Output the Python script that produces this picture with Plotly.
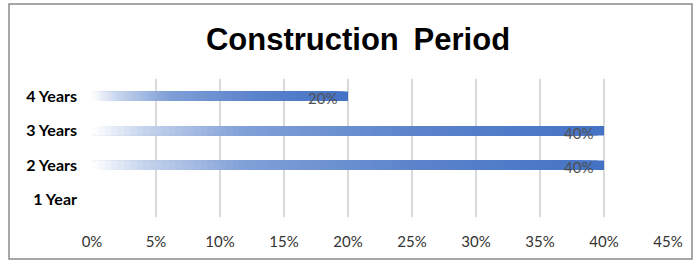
import plotly.graph_objects as go

categories = ["1 Year", "2 Years", "3 Years", "4 Years"]
values = [0.0, 0.40, 0.40, 0.20]
tick_vals = [0, 0.05, 0.10, 0.15, 0.20, 0.25, 0.30, 0.35, 0.40, 0.45]
tick_text = ["0%", "5%", "10%", "15%", "20%", "25%", "30%", "35%", "40%", "45%"]
title_text = "Construction\u2009 Period"

W, H = 696, 262
L, R, T, B = 92, 28, 79, 45

BLUE = (68, 114, 196)
# gradient stops: (fraction along bar, fraction of colour)
stops = [(0.0, 0.0), (0.1, 0.3), (0.3, 0.68), (0.65, 0.88), (1.0, 1.0)]


def grad(f):
    for (f0, t0), (f1, t1) in zip(stops[:-1], stops[1:]):
        if f <= f1:
            t = t0 + (t1 - t0) * (f - f0) / (f1 - f0)
            break
    else:
        t = 1.0
    r, g, b = (round(255 + (c - 255) * t) for c in BLUE)
    return f"rgb({r},{g},{b})"


N = 80
fig = go.Figure()
for k in range(N - 1, -1, -1):
    frac = (k + 1) / N
    fig.add_trace(go.Bar(
        y=categories,
        x=[v * frac for v in values],
        orientation="h",
        width=0.27,
        marker=dict(color=grad((k + 0.5) / N), line=dict(width=0)),
        hoverinfo="skip",
        showlegend=False,
    ))

for c, v in zip(categories, values):
    if v > 0:
        fig.add_annotation(
            x=v, y=c, xref="x", yref="y",
            text=f"{v*100:.0f}%", showarrow=False,
            xanchor="right", yanchor="middle", xshift=-9, yshift=-2,
            font=dict(family="Lato", size=15, color="#505050"),
        )

pw = W - L - R
ph = H - T - B
fig.add_shape(
    type="rect", xref="paper", yref="paper",
    x0=(9 - L) / pw, x1=(692 - L) / pw,
    y0=(H - B - 259) / ph, y1=(H - B - 4) / ph,
    line=dict(color="#8a8a8a", width=1.5), layer="below",
)

fig.update_layout(
    width=W, height=H,
    margin=dict(l=L, r=R, t=T, b=B),
    paper_bgcolor="white", plot_bgcolor="white",
    barmode="overlay",
    title=dict(
        text=title_text, x=(358) / W, xanchor="center",
        y=1 - 39 / H, yanchor="middle", yref="container",
        font=dict(family="Liberation Sans", size=31, color="black", weight="bold"),
    ),
    xaxis=dict(
        range=[0, 0.45], tickvals=tick_vals, ticktext=tick_text,
        showgrid=True, gridcolor="#d9d9d9", gridwidth=1.5,
        zeroline=False, showline=False, ticks="",
        ticklabelstandoff=14,
        tickfont=dict(family="Lato", size=15, color="#333333"),
        fixedrange=True,
    ),
    yaxis=dict(
        categoryorder="array", categoryarray=categories,
        showgrid=False, zeroline=False, showline=False, ticks="",
        ticklabelstandoff=14,
        tickfont=dict(family="Lato", size=16, color="black", weight="bold"),
        fixedrange=True,
    ),
)

fig.write_html(
    "out.html",
    config={"displayModeBar": False, "staticPlot": True},
    post_script="document.body.style.margin='0';document.body.style.overflow='hidden';",
)
